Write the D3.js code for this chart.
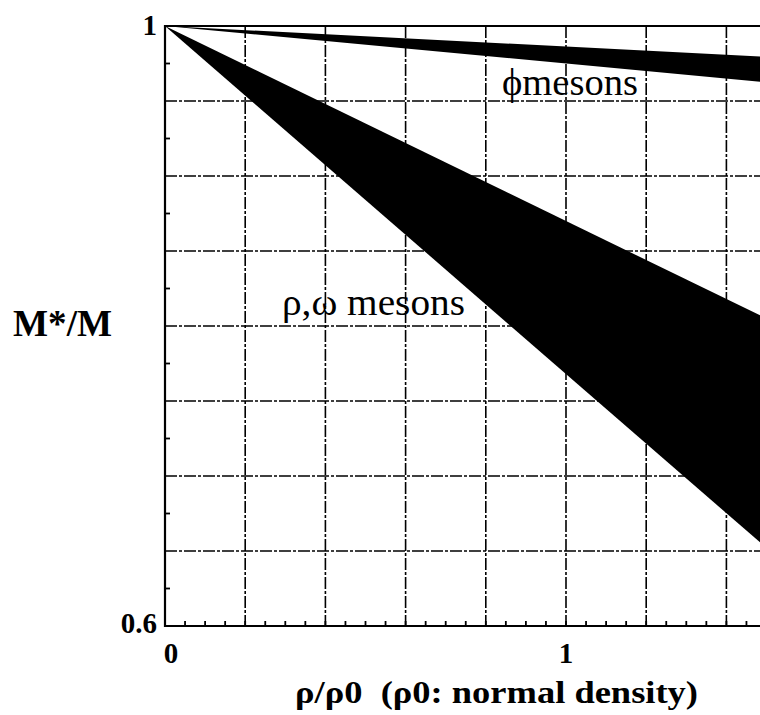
<!DOCTYPE html>
<html>
<head>
<meta charset="utf-8">
<script src="https://cdn.jsdelivr.net/npm/d3@7"></script>
<style>
  body { margin: 0; background: #fff; }
  svg { display: block; }
  text { font-family: 'Liberation Serif', 'Times New Roman', Times, serif; }
</style>
</head>
<body>
<div id="chart"></div>
<script>
// band edges: [density, M*/M]
const phiUpper = [[0, 1], [1.5, 0.9795]];
const phiLower = [[0, 1], [1.5, 0.9625]];
const rhoUpper = [[0, 1], [1.5, 0.805]];
const rhoLower = [[0, 1], [1.5, 0.652]];

const xGrid = [0.2, 0.4, 0.6, 0.8, 1.0, 1.2, 1.4];
const yGrid = [0.65, 0.7, 0.75, 0.8, 0.85, 0.9, 0.95];
const xMinor = d3.range(0.05, 1.5, 0.05);
const yMinor = d3.range(0.625, 1.0, 0.05);
const xTickLabels = [{ v: 0, t: '0' }, { v: 1, t: '1' }];
const yTickLabels = [{ v: 1, t: '1' }, { v: 0.6, t: '0.6' }];

const width = 760, height = 715;

const x = d3.scaleLinear().domain([0, 1]).range([165, 566]);
const y = d3.scaleLinear().domain([0.6, 1]).range([626, 26]);
const xMax = 1.5;

const svg = d3.select('#chart').append('svg')
    .attr('width', width)
    .attr('height', height);

// grid
svg.selectAll('.vgrid')
    .data(xGrid)
    .enter().append('line')
    .attr('class', 'vgrid')
    .attr('x1', d => x(d)).attr('x2', d => x(d))
    .attr('y1', y(1)).attr('y2', y(0.6))
    .style('stroke', '#000')
    .style('stroke-width', 1.6)
    .style('stroke-dasharray', '12,2,3,2');

svg.selectAll('.hgrid')
    .data(yGrid)
    .enter().append('line')
    .attr('class', 'hgrid')
    .attr('x1', x(0)).attr('x2', x(xMax))
    .attr('y1', d => y(d)).attr('y2', d => y(d))
    .style('stroke', '#000')
    .style('stroke-width', 1.6)
    .style('stroke-dasharray', '12,2,3,2');

// bands
const band = (upper, lower) => {
    const pts = upper.concat(lower.slice().reverse());
    return d3.line().x(d => x(d[0])).y(d => y(d[1]))(pts) + 'Z';
};

svg.append('path')
    .attr('d', band(phiUpper, phiLower))
    .style('fill', '#000');

svg.append('path')
    .attr('d', band(rhoUpper, rhoLower))
    .style('fill', '#000');

// frame
svg.append('path')
    .attr('d', `M${x(xMax)},${y(1)}H${x(0)}V${y(0.6)}H${x(xMax)}`)
    .style('fill', 'none')
    .style('stroke', '#000')
    .style('stroke-width', 2.2);

// minor ticks
svg.selectAll('.xminor')
    .data(xMinor)
    .enter().append('line')
    .attr('x1', d => x(d)).attr('x2', d => x(d))
    .attr('y1', y(0.6)).attr('y2', y(0.6) - 5)
    .style('stroke', '#000')
    .style('stroke-width', 1.8);

svg.selectAll('.yminor')
    .data(yMinor)
    .enter().append('line')
    .attr('x1', x(0)).attr('x2', x(0) + 5)
    .attr('y1', d => y(d)).attr('y2', d => y(d))
    .style('stroke', '#000')
    .style('stroke-width', 1.8);

// tick labels
svg.selectAll('.xlab')
    .data(xTickLabels)
    .enter().append('text')
    .attr('x', d => x(d.v) + (d.v === 0 ? 6 : 0))
    .attr('y', 663)
    .attr('text-anchor', 'middle')
    .style('font-weight', 'bold')
    .style('font-size', '29px')
    .text(d => d.t);

svg.selectAll('.ylab')
    .data(yTickLabels)
    .enter().append('text')
    .attr('x', 157)
    .attr('y', d => d.v === 1 ? 35 : 633)
    .attr('text-anchor', 'end')
    .style('font-weight', 'bold')
    .style('font-size', '29px')
    .text(d => d.t);

// axis titles
svg.append('text')
    .attr('x', 295)
    .attr('y', 703)
    .attr('textLength', 403)
    .attr('lengthAdjust', 'spacingAndGlyphs')
    .attr('xml:space', 'preserve')
    .style('font-weight', 'bold')
    .style('font-size', '31px')
    .text('\u03c1/\u03c10  (\u03c10: normal density)');

svg.append('text')
    .attr('x', 13)
    .attr('y', 336)
    .attr('textLength', 99)
    .attr('lengthAdjust', 'spacingAndGlyphs')
    .style('font-weight', 'bold')
    .style('font-size', '37px')
    .text('M*/M');

// band labels
svg.append('text')
    .attr('x', 502)
    .attr('y', 95)
    .attr('textLength', 136)
    .attr('lengthAdjust', 'spacingAndGlyphs')
    .style('font-size', '37px')
    .text('\u03d5mesons');

svg.append('text')
    .attr('x', 282)
    .attr('y', 315)
    .attr('textLength', 183)
    .attr('lengthAdjust', 'spacingAndGlyphs')
    .style('font-size', '37px')
    .text('\u03c1,\u03c9 mesons');
</script>
</body>
</html>
